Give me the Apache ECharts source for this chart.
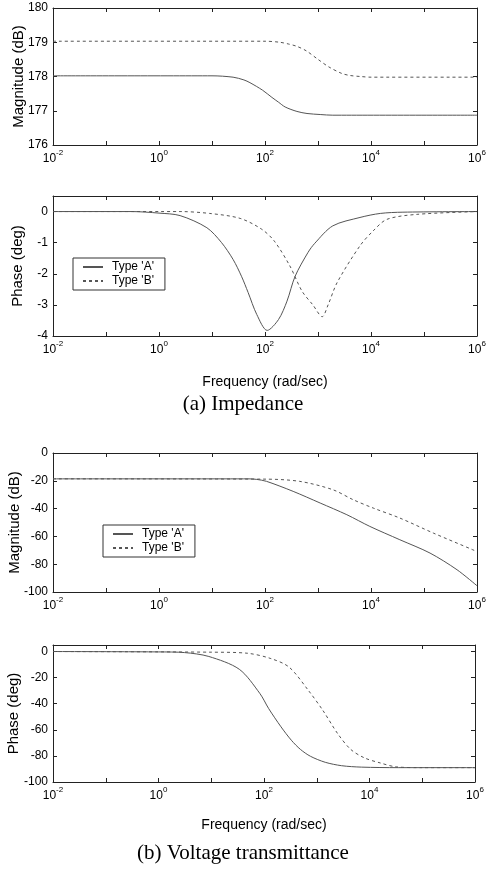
<!DOCTYPE html>
<html>
<head>
<meta charset="utf-8">
<script src="https://cdn.jsdelivr.net/npm/echarts@6/dist/echarts.min.js"></script>
<style>
  html, body { margin: 0; padding: 0; background: #fff; }
  #chart { width: 486px; height: 877px; }
</style>
</head>
<body>
<div id="chart"></div>
<script>
// (a) Impedance - magnitude (dB)
const impMagFreqA = [0.01, 10, 25, 40, 52, 90, 135, 180, 240, 400, 620, 1100, 1900, 1e6]
const impMagA = [178.02, 178.02, 177.98, 177.9, 177.82, 177.6, 177.39, 177.25, 177.11, 176.98, 176.92, 176.89, 176.87, 176.87]
const impMagFreqB = [0.01, 100, 190, 275, 400, 600, 1000, 1600, 2800, 4000, 6300, 10000, 1e6]
const impMagB = [179.03, 179.03, 179.0, 178.95, 178.88, 178.75, 178.5, 178.28, 178.09, 178.03, 178.0, 177.98, 177.98]

// (a) Impedance - phase (deg)
const impPhFreqA = [0.01, 0.3, 1, 2.5, 8, 15, 25, 36, 48, 70, 110, 180, 260, 370, 650, 870, 1900, 6200, 15000, 40000, 1e6]
const impPhA = [0, 0, -0.05, -0.13, -0.52, -0.99, -1.54, -2.08, -2.6, -3.31, -3.82, -3.47, -2.88, -2.08, -1.31, -1.02, -0.46, -0.19, -0.06, -0.02, 0]
const impPhFreqB = [0.01, 2.5, 9, 34, 87, 150, 295, 500, 800, 1200, 1550, 2300, 6200, 11000, 20000, 74000, 1e6]
const impPhB = [0, 0, -0.06, -0.22, -0.57, -0.95, -1.75, -2.56, -3.0, -3.38, -3.0, -2.28, -1.1, -0.62, -0.25, -0.09, 0]

// (b) Voltage transmittance - magnitude (dB)
const vtMagFreqA = [0.01, 50, 70, 107, 340, 1100, 3500, 9500, 35000, 130000, 420000, 1e6]
const vtMagA = [-18.6, -18.6, -19.0, -20.4, -27.6, -36, -44.4, -52.8, -62.4, -72, -84, -95.5]
const vtMagFreqB = [0.01, 100, 450, 1900, 4600, 11000, 35000, 150000, 830000, 1e6]
const vtMagB = [-18.6, -18.8, -20.4, -26.4, -33.6, -39.6, -46.8, -57.6, -69.6, -71]

// (b) Voltage transmittance - phase (deg)
const vtPhFreqA = [0.01, 1, 3.1, 9, 34, 83, 123, 210, 330, 490, 760, 1450, 2950, 7100, 35000, 1e6]
const vtPhA = [0, -0.3, -0.8, -3.8, -13.6, -32, -43.8, -57.7, -68, -75, -80.3, -84.9, -87.5, -88.6, -89, -89]
const vtPhFreqB = [0.01, 10, 48, 135, 300, 700, 1300, 2500, 4400, 8000, 16000, 32000, 100000, 1e6]
const vtPhB = [0, -0.5, -1.3, -5.4, -12, -30, -45, -63, -75, -81.5, -85.4, -88.4, -89, -89]

const nameA = "Type 'A'"
const nameB = "Type 'B'"

const grids = [
  { left: 53, top: 8, width: 424, height: 137 },
  { left: 53, top: 196, width: 424, height: 140 },
  { left: 53, top: 453, width: 424, height: 139 },
  { left: 53, top: 645, width: 422, height: 137 }
].map(g => Object.assign({ outerBoundsMode: 'none', containLabel: false }, g))
const yRanges = [
  { min: 176, max: 180, interval: 1, name: 'Magnitude (dB)', gap: 27 },
  { min: -4, max: 0.5, interval: 1, name: 'Phase (deg)', gap: 28 },
  { min: -100, max: 0, interval: 20, name: 'Magnitude (dB)', gap: 31 },
  { min: -100, max: 5, interval: 20, name: 'Phase (deg)', gap: 32 }
]
const xNames = ['', 'Frequency (rad/sec)', '', 'Frequency (rad/sec)']
const xNameGaps = [0, 39, 0, 36]

const font = 'Liberation Sans, Arial, sans-serif'
const serif = 'Liberation Serif, Times New Roman, serif'
const frame = '#222'

function logLabel (v) {
  const e = Math.round(Math.log10(v))
  if (e % 2 !== 0) return ''
  return '{b|10}{s|' + e + '}'
}

const xAxis = []
const yAxis = []
grids.forEach((g, i) => {
  ;['bottom', 'top'].forEach(pos => {
    xAxis.push({
      type: 'log',
      logBase: 10,
      gridIndex: i,
      position: pos,
      min: 0.01,
      max: 1e6,
      splitNumber: 8,
      name: pos === 'bottom' ? xNames[i] : '',
      nameLocation: 'middle',
      nameGap: xNameGaps[i],
      nameMoveOverlap: false,
      nameTextStyle: { color: '#000', fontSize: 14, fontFamily: font },
      axisLine: { onZero: false, lineStyle: { color: frame, width: 1 } },
      axisTick: { inside: true, length: 4, lineStyle: { color: frame } },
      splitLine: { show: false },
      axisLabel: {
        show: pos === 'bottom',
        margin: 4,
        formatter: logLabel,
        rich: {
          b: { fontSize: 12, fontFamily: font, color: '#000', lineHeight: 16, verticalAlign: 'bottom' },
          s: { fontSize: 8, fontFamily: font, color: '#000', lineHeight: 8, verticalAlign: 'top' }
        }
      }
    })
  })
  ;['left', 'right'].forEach(pos => {
    const r = yRanges[i]
    yAxis.push({
      type: 'value',
      gridIndex: i,
      position: pos,
      min: r.min,
      max: r.max,
      interval: r.interval,
      name: pos === 'left' ? r.name : '',
      nameLocation: 'middle',
      nameGap: r.gap,
      nameMoveOverlap: false,
      nameTextStyle: { color: '#000', fontSize: 15, fontFamily: font },
      axisLine: { show: true, onZero: false, lineStyle: { color: frame, width: 1 } },
      axisTick: { show: true, inside: true, length: 4, lineStyle: { color: frame } },
      splitLine: { show: false },
      axisLabel: {
        show: pos === 'left',
        margin: 5,
        color: '#000',
        fontSize: 12,
        fontFamily: font,
        formatter: v => (v % r.interval === 0 ? String(v) : '')
      }
    })
  })
})

function pairs (xs, ys) {
  return xs.map((x, k) => [x, ys[k]])
}

function line (name, i, xs, ys, dashed) {
  return {
    name: name,
    type: 'line',
    xAxisIndex: i * 2,
    yAxisIndex: i * 2,
    symbol: 'none',
    smooth: 0.3,
    lineStyle: { color: '#555', width: 1, type: dashed ? [3, 3] : 'solid' },
    itemStyle: { color: '#555' },
    data: pairs(xs, ys)
  }
}

const series = [
  line(nameA, 0, impMagFreqA, impMagA, false),
  line(nameB, 0, impMagFreqB, impMagB, true),
  line(nameA, 1, impPhFreqA, impPhA, false),
  line(nameB, 1, impPhFreqB, impPhB, true),
  line(nameA, 2, vtMagFreqA, vtMagA, false),
  line(nameB, 2, vtMagFreqB, vtMagB, true),
  line(nameA, 3, vtPhFreqA, vtPhA, false),
  line(nameB, 3, vtPhFreqB, vtPhB, true)
]

function legendAt (left, top) {
  return {
    left: left,
    top: top,
    orient: 'vertical',
    data: [nameA, nameB],
    itemWidth: 20,
    itemHeight: 10,
    itemGap: 2,
    padding: [3, 11, 3, 9],
    borderColor: '#333',
    borderWidth: 1,
    backgroundColor: '#fff',
    selectedMode: false,
    itemStyle: { opacity: 0 },
    textStyle: { color: '#000', fontSize: 12, fontFamily: font, padding: [0, 0, 0, 4] }
  }
}

const chart = echarts.init(document.getElementById('chart'))
chart.setOption({
  backgroundColor: '#fff',
  animation: false,
  legend: [legendAt(73, 258), legendAt(103, 525)],
  grid: grids,
  xAxis: xAxis,
  yAxis: yAxis,
  series: series,
  graphic: [
    {
      type: 'text',
      left: 'center',
      top: 394,
      style: { text: '(a) Impedance', fontSize: 21, fontFamily: serif, fill: '#000' }
    },
    {
      type: 'text',
      left: 'center',
      top: 843,
      style: { text: '(b) Voltage transmittance', fontSize: 21, fontFamily: serif, fill: '#000' }
    }
  ]
})
</script>
</body>
</html>
